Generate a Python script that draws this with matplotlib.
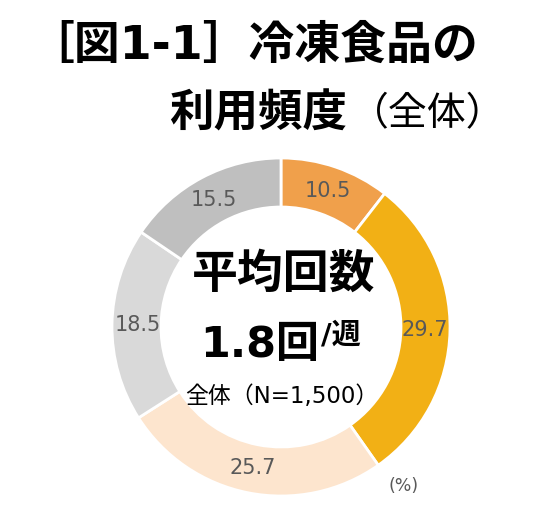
import matplotlib
matplotlib.use("Agg")
import matplotlib.pyplot as plt

plt.rcParams['font.family'] = ['DejaVu Sans', 'Noto Sans CJK JP']

# shares (%) clockwise from the top
values = [10.5, 29.7, 25.7, 18.5, 15.5]
colors = ['#F0A04B', '#F2B015', '#FDE5CE', '#D9D9D9', '#BFBFBF']
label_color = '#595959'

title_line1 = "［図1-1］冷凍食品の"
title_line2 = "利用頻度"
title_sub = "（全体）"
center_head = "平均回数"
center_value = "1.8回"
center_unit = "/週"
center_note = "全体（N=1,500）"
unit_note = "(%)"

W, H = 533, 517
fig = plt.figure(figsize=(W / 100, H / 100), dpi=100)

cx, cy, r = 281, 327, 169
ax = fig.add_axes([(cx - r) / W, (H - cy - r) / H, 2 * r / W, 2 * r / H])

wedges, texts = ax.pie(
    values,
    colors=colors,
    startangle=90,
    counterclock=False,
    radius=1.0,
    labels=[f"{v}" for v in values],
    labeldistance=0.85,
    wedgeprops=dict(width=0.29, edgecolor='white', linewidth=2),
    textprops=dict(color=label_color, fontsize=15),
)
for t in texts:
    t.set_ha('center')
    t.set_va('center')
ax.set_xlim(-1, 1)
ax.set_ylim(-1, 1)
ax.axis('off')

# title
fig.text(28 / W, 1 - 46 / H, title_line1, fontsize=33, fontweight='bold',
         ha='left', va='center')
fig.text(347 / W, 1 - 114 / H, title_line2, fontsize=32, fontweight='bold',
         ha='right', va='center')
fig.text(350 / W, 1 - 114 / H, title_sub, fontsize=28,
         ha='left', va='center')

# centre text
fig.text(284 / W, 1 - 275 / H, center_head, fontsize=33, fontweight='bold',
         ha='center', va='center')
fig.text(319 / W, 1 - 345 / H, center_value, fontsize=31, fontweight='bold',
         ha='right', va='center')
fig.text(321 / W, 1 - 336 / H, center_unit, fontsize=21, fontweight='bold',
         ha='left', va='center')
fig.text(282 / W, 1 - 397 / H, center_note, fontsize=16.5,
         ha='center', va='center')

fig.text(404 / W, 1 - 486 / H, unit_note, fontsize=12.5, color=label_color,
         ha='center', va='center')

fig.savefig("out.png", dpi=100)
